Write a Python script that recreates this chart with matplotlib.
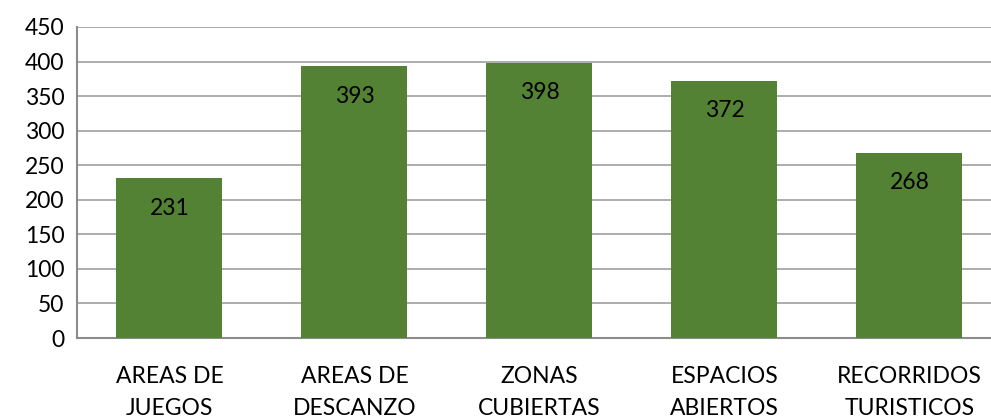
import matplotlib
matplotlib.use("Agg")
import matplotlib.pyplot as plt

categories = ["AREAS DE\nJUEGOS", "AREAS DE\nDESCANZO", "ZONAS\nCUBIERTAS",
              "ESPACIOS\nABIERTOS", "RECORRIDOS\nTURISTICOS"]
values = [231, 393, 398, 372, 268]
y_ticks = [0, 50, 100, 150, 200, 250, 300, 350, 400, 450]

plt.rcParams['font.family'] = ['Lato', 'DejaVu Sans']

fig = plt.figure(figsize=(9.91, 4.19), dpi=100)
ax = fig.add_axes([0.0777, 0.1933, 0.9333, 0.7423])

x = range(len(categories))
bars = ax.bar(x, values, width=0.573, color="#548235", zorder=3)

for xi, v in zip(x, values):
    ax.annotate(str(v), (xi, v), xytext=(0, -21.5), textcoords="offset points",
                ha="center", va="center", fontsize=16.5, color="black", zorder=4)

ax.set_xlim(-0.5, len(categories) - 0.5)
ax.set_ylim(0, 450)
ax.set_yticks(y_ticks)
ax.set_yticklabels([str(t) for t in y_ticks], fontsize=16.5)
ax.set_xticks(list(x))
ax.set_xticklabels(categories, fontsize=16.5, linespacing=1.65)
ax.tick_params(axis="both", length=0)
ax.tick_params(axis="x", pad=20)
ax.tick_params(axis="y", pad=9)

ax.yaxis.grid(True, color="#A6A6A6", linewidth=1.3, zorder=0)
for side in ("top", "right"):
    ax.spines[side].set_visible(False)
for side in ("left", "bottom"):
    ax.spines[side].set_color("#8C8C8C")
    ax.spines[side].set_linewidth(1.5)

fig.savefig("out.png", dpi=100)
